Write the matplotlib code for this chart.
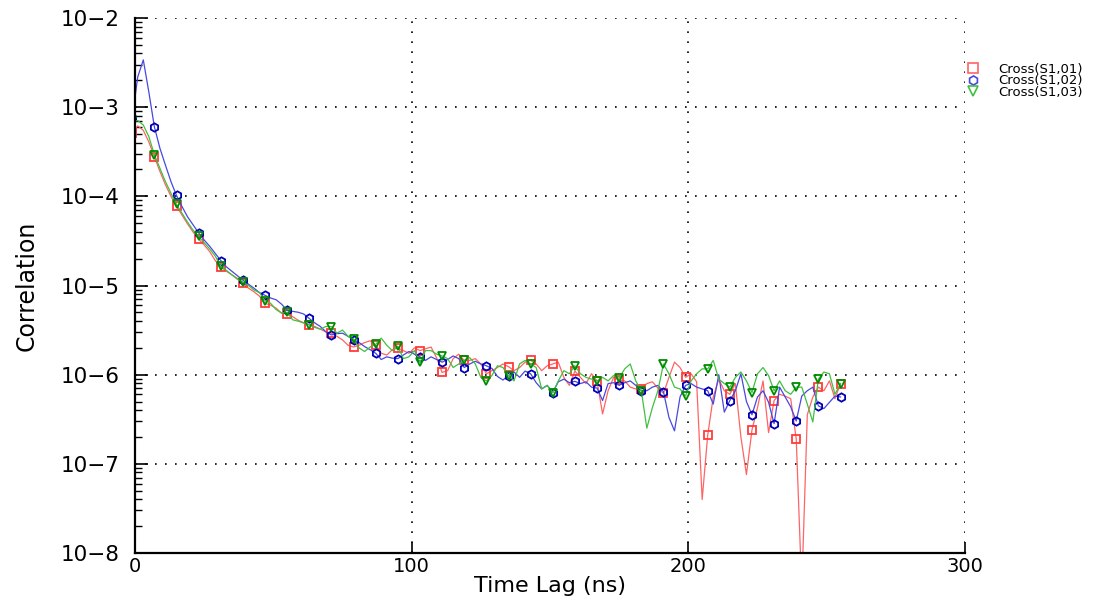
import numpy as np
import matplotlib
matplotlib.use("Agg")
import matplotlib.pyplot as plt
from matplotlib.lines import Line2D

# sample times (ns), 2 ns spacing
time_ns = np.arange(-1, 256, 2)

# log10(correlation)
log_s1_01 = [
    -3.29, -3.21, -3.26, -3.39, -3.555, -3.72, -3.87, -4.00, -4.11, -4.21,
    -4.31, -4.40, -4.48, -4.545, -4.62, -4.72, -4.79, -4.84, -4.88, -4.92,
    -4.97, -5.03, -5.07, -5.12, -5.20, -5.22, -5.255, -5.31, -5.32, -5.35,
    -5.39, -5.42, -5.44, -5.46, -5.49, -5.52, -5.535, -5.57, -5.61, -5.67,
    -5.69, -5.67, -5.64, -5.62, -5.67, -5.76, -5.78, -5.72, -5.70, -5.73,
    -5.76, -5.70, -5.73, -5.71, -5.69, -5.81, -5.975, -5.955, -5.82, -5.77,
    -5.84, -5.84, -5.82, -5.88, -5.99, -5.955, -5.92, -5.88, -5.91, -5.955,
    -5.92, -5.86, -5.84, -5.88, -5.955, -5.90, -5.88, -5.86, -6.03, -6.12,
    -5.96, -6.03, -6.10, -5.99, -6.07, -6.44, -6.18, -6.03, -6.06, -6.07,
    -6.14, -6.16, -6.16, -6.10, -6.08, -6.15, -6.21, -6.03, -5.86, -5.92,
    -6.03, -5.99, -6.08, -7.40, -6.68, -6.25, -6.05, -6.18, -6.22, -6.10,
    -6.70, -7.12, -6.62, -6.37, -6.07, -6.65, -6.29, -6.22, -6.24, -6.27,
    -6.72, -8.40, -6.45, -6.25, -6.14, -6.18, -6.07, -6.27, -6.10,
]
log_s1_02 = [
    -3.12, -2.66, -2.47, -2.83, -3.22, -3.46, -3.65, -3.835, -3.99, -4.115,
    -4.23, -4.32, -4.41, -4.49, -4.56, -4.64, -4.72, -4.79, -4.84, -4.89,
    -4.94, -4.985, -5.03, -5.08, -5.11, -5.14, -5.16, -5.21, -5.28, -5.29,
    -5.30, -5.32, -5.37, -5.42, -5.46, -5.52, -5.555, -5.54, -5.535, -5.57,
    -5.61, -5.64, -5.685, -5.72, -5.76, -5.83, -5.80, -5.815, -5.82, -5.78,
    -5.74, -5.77, -5.80, -5.84, -5.80, -5.83, -5.86, -5.83, -5.79, -5.82,
    -5.92, -5.88, -5.85, -5.88, -5.90, -5.93, -6.02, -6.06, -6.01, -5.97,
    -6.03, -5.96, -5.99, -6.09, -6.16, -6.12, -6.20, -6.08, -6.05, -6.09,
    -6.075, -6.10, -6.08, -6.14, -6.15, -6.29, -6.10, -6.09, -6.12, -6.09,
    -6.07, -6.12, -6.18, -6.18, -6.14, -6.12, -6.19, -6.48, -6.63, -6.25,
    -6.12, -6.10, -6.14, -6.16, -6.18, -6.33, -6.00, -6.42, -6.29, -6.18,
    -5.99, -6.30, -6.45, -6.25, -6.18, -6.31, -6.55, -6.14, -6.25, -6.36,
    -6.52, -6.24, -6.18, -6.14, -6.35, -6.38, -6.31, -6.24, -6.25,
]
log_s1_03 = [
    -3.16, -3.15, -3.20, -3.33, -3.535, -3.685, -3.835, -3.965, -4.09, -4.19,
    -4.29, -4.38, -4.45, -4.52, -4.59, -4.67, -4.78, -4.83, -4.88, -4.93,
    -4.96, -5.00, -5.05, -5.08, -5.17, -5.20, -5.27, -5.31, -5.30, -5.385,
    -5.40, -5.42, -5.44, -5.47, -5.49, -5.46, -5.46, -5.535, -5.50, -5.57,
    -5.60, -5.70, -5.74, -5.69, -5.66, -5.59, -5.67, -5.73, -5.68, -5.82,
    -5.80, -5.73, -5.86, -5.73, -5.73, -5.77, -5.79, -5.82, -5.92, -5.88,
    -5.84, -5.81, -5.88, -6.03, -6.07, -6.01, -5.90, -5.92, -6.01, -6.07,
    -5.88, -5.84, -5.88, -5.92, -6.16, -6.12, -6.20, -6.07, -5.955, -5.99,
    -5.90, -5.99, -6.03, -6.05, -6.07, -6.03, -6.07, -6.01, -6.04, -5.935,
    -5.88, -6.07, -6.18, -6.60, -6.37, -6.18, -5.88, -5.99, -6.14, -6.16,
    -6.24, -6.07, -5.99, -5.935, -5.935, -5.84, -6.05, -6.10, -6.14, -6.03,
    -5.97, -6.07, -6.20, -5.99, -5.92, -6.01, -6.18, -6.07, -6.18, -6.22,
    -6.14, -6.14, -6.33, -6.53, -6.05, -5.97, -5.99, -6.22, -6.10,
]

series_labels = ["Cross(S1,01)", "Cross(S1,02)", "Cross(S1,03)"]
line_colors = ["#ff6464", "#4848e0", "#40c040"]
marker_colors = ["#ff3c3c", "#0000b4", "#008c00"]
marker_shapes = ["s", "h", "v"]

xticks = [0, 100, 200, 300]
yticks = [1e-8, 1e-7, 1e-6, 1e-5, 1e-4, 1e-3, 1e-2]
ytick_labels = ["10\u22128", "10\u22127", "10\u22126", "10\u22125",
                "10\u22124", "10\u22123", "10\u22122"]

fig = plt.figure(figsize=(11.04, 6.05), dpi=100)
ax = fig.add_axes([135 / 1104, 1 - 553 / 605, 830 / 1104, 535 / 605])

all_logs = [log_s1_01, log_s1_02, log_s1_03]
for logs, lc, mc, mk in zip(all_logs, line_colors, marker_colors, marker_shapes):
    ax.plot(time_ns, 10.0 ** np.array(logs), color=lc, lw=0.9,
            marker=mk, markevery=4, ms=6, mfc="none", mec=mc, mew=1.3)

ax.set_yscale("log")
ax.set_xlim(0, 300)
ax.set_ylim(1e-8, 1e-2)
ax.set_xticks(xticks)
ax.set_xticklabels([str(v) for v in xticks], fontsize=14)
ax.set_yticks(yticks)
ax.set_yticklabels(ytick_labels, fontsize=15.5)
ax.yaxis.set_minor_locator(matplotlib.ticker.LogLocator(base=10, subs=np.arange(2, 10)))
ax.yaxis.set_minor_formatter(matplotlib.ticker.NullFormatter())
ax.xaxis.set_minor_locator(matplotlib.ticker.NullLocator())

ax.tick_params(axis="y", which="major", direction="in", length=9, width=1.2, pad=11)
ax.tick_params(axis="y", which="minor", direction="in", length=5, width=1.0)
ax.tick_params(axis="x", which="major", direction="in", length=8, width=1.2, pad=3)

ax.grid(True, which="major", color="black", linestyle=(0, (1, 5)), lw=1.2)
for side in ["top", "right"]:
    ax.spines[side].set_visible(False)
for side in ["left", "bottom"]:
    ax.spines[side].set_linewidth(1.6)

ax.set_xlabel("Time Lag (ns)", fontsize=16, labelpad=0)
ax.set_ylabel("Correlation", fontsize=17, labelpad=16,
              family=["Liberation Sans Narrow", "DejaVu Sans"])

handles = [Line2D([], [], ls="none", marker=mk, ms=6.5, mfc="none", mec=lc, mew=1.2)
           for mk, lc in zip(marker_shapes, line_colors)]
fig.legend(handles, series_labels, loc="upper left",
           bbox_to_anchor=(960 / 1104, 1 - 56 / 605), frameon=False,
           fontsize=9.5, handlelength=1.0, handletextpad=1.4,
           labelspacing=-0.1, borderpad=0)

fig.savefig("out.png", dpi=100)
